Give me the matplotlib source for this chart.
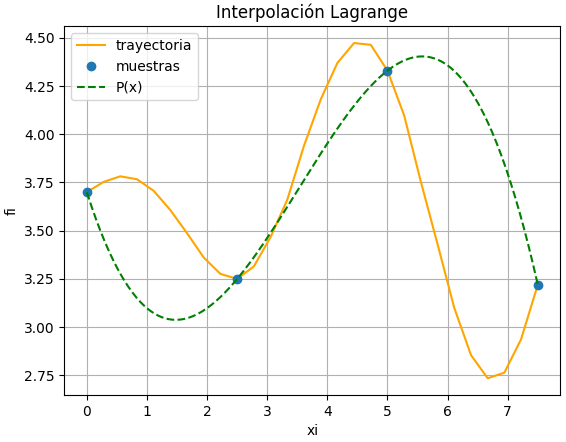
import numpy as np
import matplotlib
matplotlib.use("Agg")
import matplotlib.pyplot as plt

# trayectoria
xi = [0.0, 0.278, 0.556, 0.833, 1.111, 1.389, 1.667, 1.944, 2.222, 2.5,
      2.778, 3.056, 3.333, 3.611, 3.889, 4.167, 4.444, 4.722, 5.0, 5.278,
      5.556, 5.833, 6.111, 6.389, 6.667, 6.944, 7.222, 7.5]
fi = [3.70, 3.753, 3.782, 3.767, 3.707, 3.607, 3.487, 3.361, 3.276, 3.25,
      3.315, 3.467, 3.66, 3.94, 4.18, 4.37, 4.473, 4.464, 4.33, 4.097,
      3.753, 3.43, 3.10, 2.855, 2.735, 2.764, 2.937, 3.22]

# muestras
xm = [0.0, 2.5, 5.0, 7.5]
fm = [3.70, 3.25, 4.33, 3.22]


def lagrange(xs, ys, x):
    total = np.zeros_like(x)
    for i in range(len(xs)):
        term = np.ones_like(x) * ys[i]
        for j in range(len(xs)):
            if j != i:
                term = term * (x - xs[j]) / (xs[i] - xs[j])
        total = total + term
    return total


px = np.linspace(xm[0], xm[-1], 200)
py = lagrange(xm, fm, px)

fig = plt.figure(figsize=(5.66, 4.42), dpi=100)
ax = fig.add_axes([0.1136, 0.1063, 0.99 - 0.1136, 0.9405 - 0.1063])
ax.plot(xi, fi, color="orange", label="trayectoria")
ax.plot(xm, fm, "o", label="muestras")
ax.plot(px, py, "g--", label="P(x)")
ax.legend(loc="upper left")
ax.set_xlabel("xi")
ax.set_ylabel("fi")
ax.set_title("Interpolación Lagrange")
ax.grid(True)
fig.savefig("out.png")
